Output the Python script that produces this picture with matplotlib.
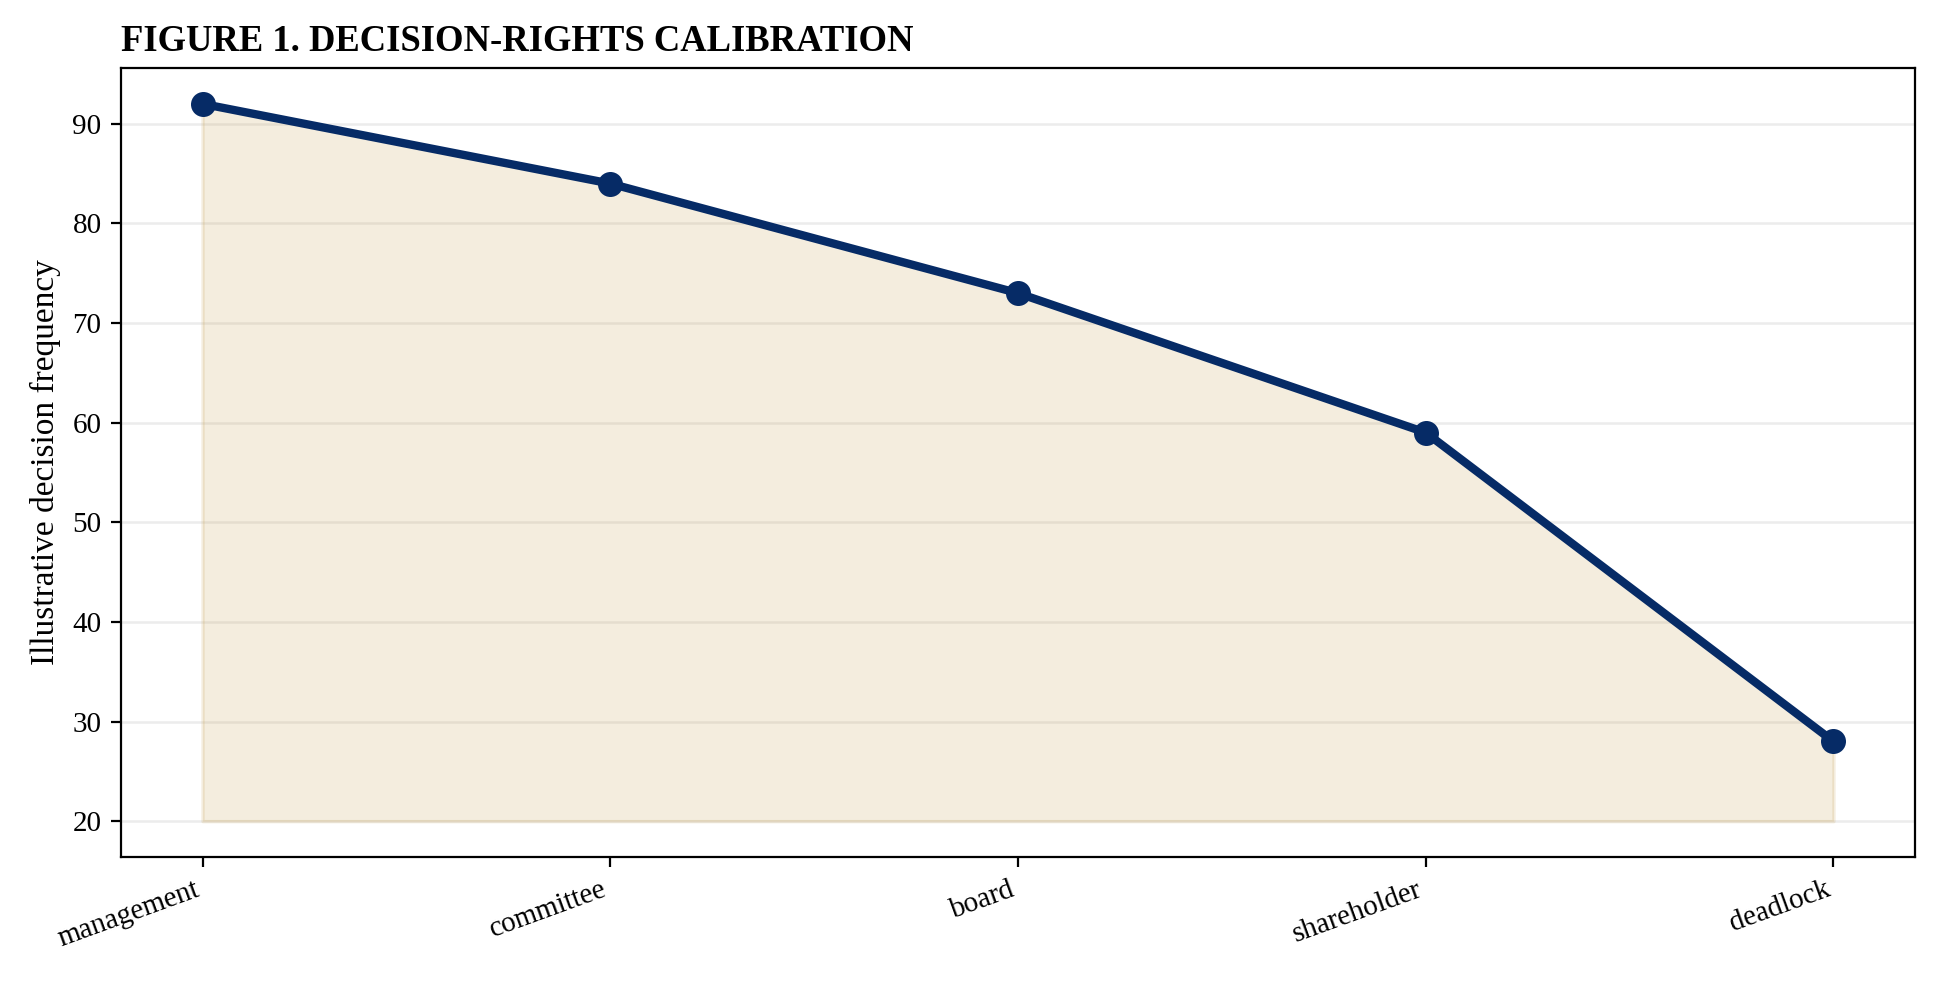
import matplotlib
matplotlib.use("Agg")
import matplotlib.pyplot as plt

categories = ["management", "committee", "board", "shareholder", "deadlock"]
values = [92, 84, 73, 59, 28]
baseline = 20

plt.rcParams['font.family'] = ['Liberation Serif', 'DejaVu Serif']

fig, ax = plt.subplots(figsize=(9.7, 4.915), dpi=200)
x = list(range(len(categories)))
ax.fill_between(x, [baseline]*len(x), values, color="#c9a55a", alpha=0.2, linewidth=1.2, zorder=1)
ax.plot(x, values, color="#062b66", linewidth=3, marker="o", markersize=8, zorder=3)

ax.set_xticks(x)
ax.set_xticklabels(categories, rotation=20, ha="right", fontsize=10.5)
ax.tick_params(axis="y", labelsize=10.5)
ax.set_ylabel("Illustrative decision frequency", fontsize=12)
ax.yaxis.grid(True, color="#ececec", linewidth=0.9, zorder=0)
ax.set_axisbelow(True)
ax.set_title("FIGURE 1. DECISION-RIGHTS CALIBRATION", loc="left", fontsize=13.2, fontweight="bold")

fig.subplots_adjust(left=121/1940, right=1915/1940, top=1-68/983, bottom=1-857/983)
fig.savefig("out.png", dpi=200)
